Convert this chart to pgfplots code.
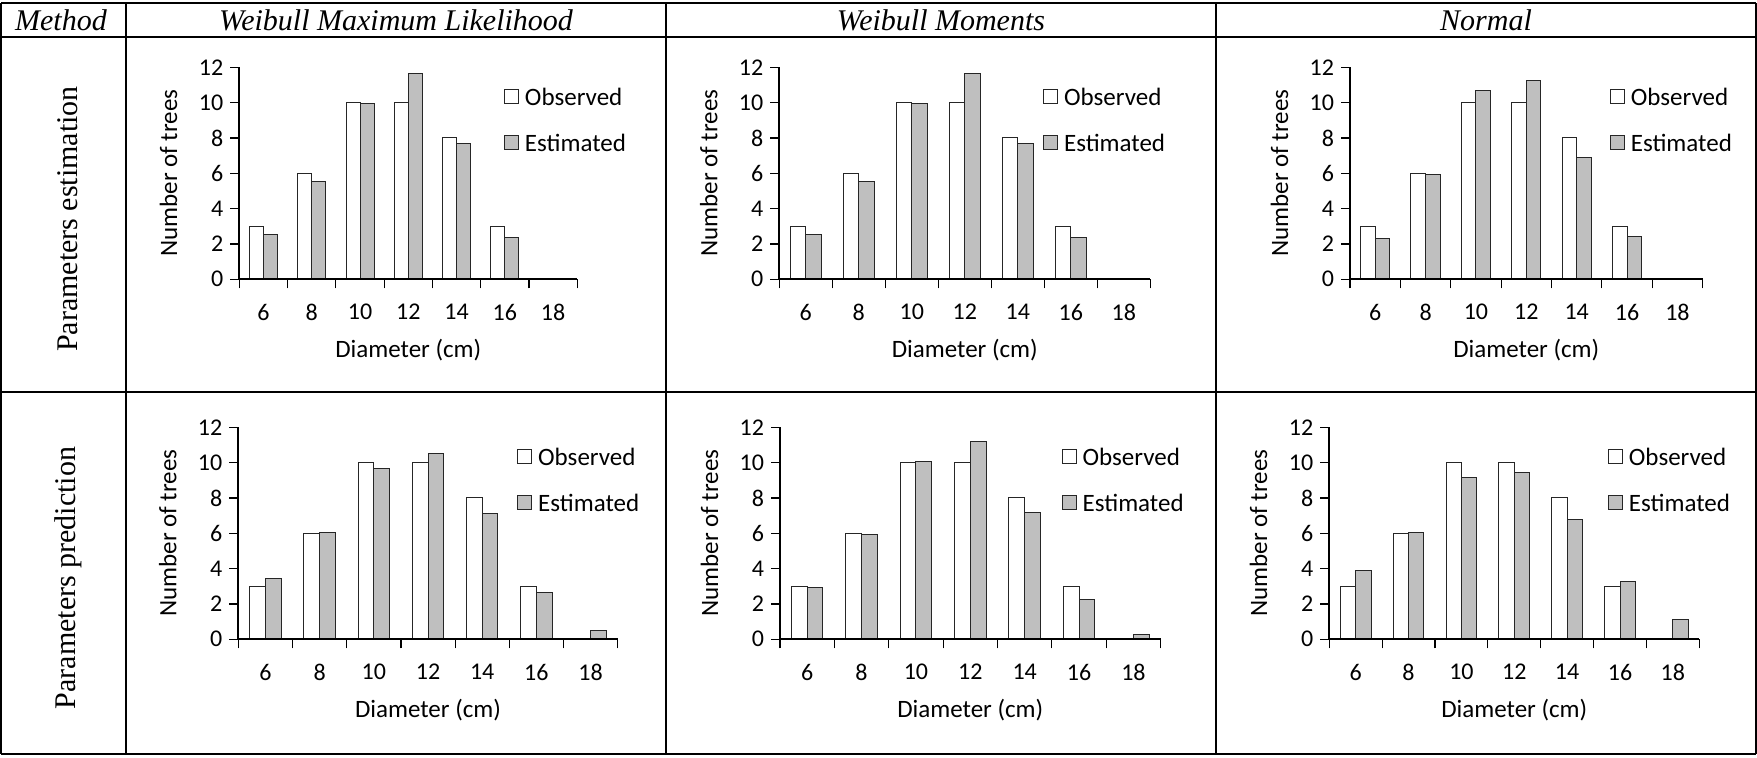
\documentclass[border=0pt]{standalone}
\usepackage{fontspec}
\setmainfont{Carlito}
\newfontfamily\tnr{Liberation Serif}
\usepackage{pgfplots}
\pgfplotsset{compat=1.18}
\usepackage{pgfplotstable}

\definecolor{barGray}{RGB}{191,191,191}

% x: category index (0 = 6 cm, ..., 6 = 18 cm)
\pgfplotstableread{
x obs est
0 3 2.53
1 6 5.51
2 10 9.95
3 10 11.66
4 8 7.68
5 3 2.38
6 0 0
}\dataA
\pgfplotstableread{
x obs est
0 3 2.53
1 6 5.51
2 10 9.95
3 10 11.66
4 8 7.68
5 3 2.38
6 0 0
}\dataB
\pgfplotstableread{
x obs est
0 3 2.32
1 6 5.92
2 10 10.68
3 10 11.25
4 8 6.91
5 3 2.45
6 0 0
}\dataC
\pgfplotstableread{
x obs est
0 3 3.44
1 6 6.06
2 10 9.67
3 10 10.53
4 8 7.11
5 3 2.67
6 0 0.49
}\dataD
\pgfplotstableread{
x obs est
0 3 2.95
1 6 5.91
2 10 10.08
3 10 11.21
4 8 7.18
5 3 2.26
6 0 0.26
}\dataE
\pgfplotstableread{
x obs est
0 3 3.87
1 6 6.06
2 10 9.16
3 10 9.46
4 8 6.77
5 3 3.29
6 0 1.11
}\dataF

\newcommand{\cfont}{\fontsize{12}{14}\selectfont}
\newcommand{\lfont}{\fontsize{12.5}{15}\selectfont}

\pgfplotsset{
  hist/.style={
    scale only axis, height=106pt, anchor=south west,
    axis on top,
    ybar, bar width=0.29,
    xmin=-0.5, xmax=6.5, ymin=0, ymax=12,
    axis x line*=bottom, axis y line*=left,
    axis line style={line width=1pt, black},
    xtick={-0.5,0.5,...,6.5},
    xticklabels={6,8,10,12,14,16,18,{}},
    ytick={0,2,...,12},
    major tick length=4.5pt, tick align=outside,
    tick style={black, line width=0.6pt},
    tick label style={font=\cfont},
    /pgf/number format/assume math mode=true,
    xlabel={Diameter (cm)}, ylabel={Number of trees},
    every axis x label/.style={at={(axis description cs:0.5,0)}, anchor=center, yshift=-35.3pt, font=\lfont},
    every axis y label/.style={at={(axis description cs:-0.2,0.5)}, rotate=90, anchor=center, font=\lfont},
    legend style={anchor=west, draw=none, fill=none, inner sep=0pt, outer sep=0pt,
      font=\lfont, row sep=15pt, column sep=3pt,
      nodes={inner sep=0pt, text height=8pt, text depth=0pt}},
    legend cell align=left,
    legend image code/.code={\draw[#1,line width=0.5pt] (0pt,-3.2pt) rectangle (7pt,3.8pt);},
  },
  obs/.style={fill=white, draw=black!85, line width=0.5pt, bar shift=-0.145},
  est/.style={fill=barGray, draw=black!85, line width=0.5pt, bar shift=0.145},
}

\begin{document}
\begin{tikzpicture}
\path[use as bounding box] (0,0) rectangle (878.5pt,379pt);

% table grid
\begin{scope}[line width=0.9pt]
\draw (0.5pt,377.6pt) -- (878pt,377.6pt);
\draw (0.5pt,360.5pt) -- (878pt,360.5pt);
\draw (0.5pt,183pt) -- (878pt,183pt);
\draw (0.5pt,2pt) -- (878pt,2pt);
\draw (0.5pt,2pt) -- (0.5pt,377.6pt);
\draw (63pt,2pt) -- (63pt,377.6pt);
\draw (333pt,2pt) -- (333pt,377.6pt);
\draw (608pt,2pt) -- (608pt,377.6pt);
\draw (878pt,2pt) -- (878pt,377.6pt);
\end{scope}

% headers
\begin{scope}[font=\tnr\itshape\fontsize{15}{18}\selectfont]
\node at (30.5pt,369pt) {Method};
\node at (198pt,369pt) {Weibull Maximum Likelihood};
\node at (470.5pt,369pt) {Weibull Moments};
\node at (743pt,369pt) {Normal};
\end{scope}
\node[rotate=90, font=\tnr\fontsize{15}{18}\selectfont] at (34pt,269.5pt) {Parameters estimation};
\node[rotate=90, font=\tnr\fontsize{15}{18}\selectfont] at (34pt,90pt) {Parameters prediction};

% row 1
\begin{axis}[hist, at={(119.65pt,239.35pt)}, width=169pt,
  xticklabel style={xshift=12.07pt, yshift=-4.5pt},
  ylabel style={at={(axis description cs:-0.209,0.5)}},
  legend style={at={(axis description cs:0.783,0.75)}}]
\addplot[obs] table[x=x,y=obs]{\dataA};
\addplot[est] table[x=x,y=est]{\dataA};
\legend{Observed,Estimated}
\end{axis}

\begin{axis}[hist, at={(389.65pt,239.35pt)}, width=185.5pt,
  xticklabel style={xshift=13.25pt, yshift=-4.5pt},
  ylabel style={at={(axis description cs:-0.190,0.5)}},
  legend style={at={(axis description cs:0.711,0.75)}}]
\addplot[obs] table[x=x,y=obs]{\dataB};
\addplot[est] table[x=x,y=est]{\dataB};
\legend{Observed,Estimated}
\end{axis}

\begin{axis}[hist, at={(675pt,239.35pt)}, width=176.3pt,
  xticklabel style={xshift=12.6pt, yshift=-4.5pt},
  ylabel style={at={(axis description cs:-0.200,0.5)}},
  legend style={at={(axis description cs:0.737,0.75)}}]
\addplot[obs] table[x=x,y=obs]{\dataC};
\addplot[est] table[x=x,y=est]{\dataC};
\legend{Observed,Estimated}
\end{axis}

% row 2
\begin{axis}[hist, at={(119.15pt,59.35pt)}, width=189.7pt,
  xticklabel style={xshift=13.55pt, yshift=-4.5pt},
  ylabel style={at={(axis description cs:-0.186,0.5)}},
  legend style={at={(axis description cs:0.735,0.75)}}]
\addplot[obs] table[x=x,y=obs]{\dataD};
\addplot[est] table[x=x,y=est]{\dataD};
\legend{Observed,Estimated}
\end{axis}

\begin{axis}[hist, at={(390pt,59.35pt)}, width=190.3pt,
  xticklabel style={xshift=13.6pt, yshift=-4.5pt},
  ylabel style={at={(axis description cs:-0.185,0.5)}},
  legend style={at={(axis description cs:0.740,0.75)}}]
\addplot[obs] table[x=x,y=obs]{\dataE};
\addplot[est] table[x=x,y=est]{\dataE};
\legend{Observed,Estimated}
\end{axis}

\begin{axis}[hist, at={(664.65pt,59.35pt)}, width=185pt,
  xticklabel style={xshift=13.2pt, yshift=-4.5pt},
  ylabel style={at={(axis description cs:-0.191,0.5)}},
  legend style={at={(axis description cs:0.753,0.75)}}]
\addplot[obs] table[x=x,y=obs]{\dataF};
\addplot[est] table[x=x,y=est]{\dataF};
\legend{Observed,Estimated}
\end{axis}
\end{tikzpicture}
\end{document}
